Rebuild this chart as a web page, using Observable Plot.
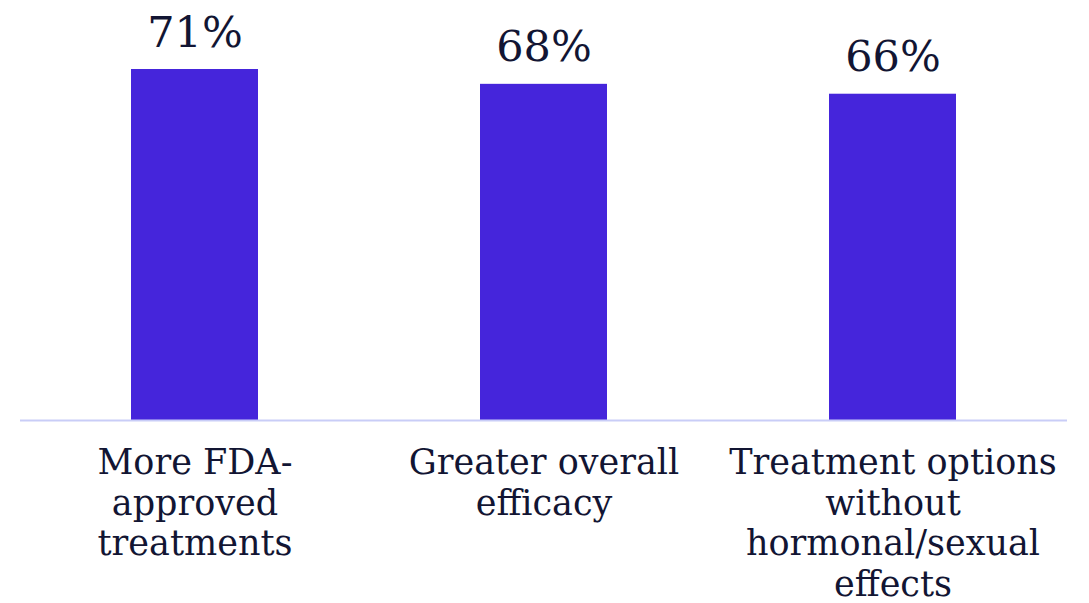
<!DOCTYPE html>
<html>
<head>
<meta charset="utf-8">
<script src="https://cdn.jsdelivr.net/npm/d3@7"></script>
<script src="https://cdn.jsdelivr.net/npm/@observablehq/plot@0.6"></script>
<style>
  html, body { margin: 0; padding: 0; background: #fff; }
</style>
</head>
<body>
<div id="chart"></div>
<script>
const categories = [
  "More FDA-\napproved\ntreatments",
  "Greater overall\nefficacy",
  "Treatment options\nwithout\nhormonal/sexual\neffects"
];
const values = [71, 68, 66];
const valueLabels = ["71%", "68%", "66%"];

const data = categories.map((c, i) => ({category: c, value: values[i], label: valueLabels[i]}));

const chart = Plot.plot({
  width: 1089,
  height: 603,
  marginTop: 69,
  marginBottom: 183,
  marginLeft: 20,
  marginRight: 22,
  style: {fontFamily: "'DejaVu Serif', serif", color: "#121533", background: "#fff"},
  x: {domain: categories, paddingInner: 0.636, paddingOuter: 0.318, label: null},
  y: {domain: [0, 71], axis: null},
  marks: [
    Plot.barY(data, {x: "category", y: "value", fill: "#4525db"}),
    Plot.ruleY([0], {stroke: "#c9cdf7", strokeWidth: 2}),
    Plot.text(data, {x: "category", y: "value", text: "label", lineAnchor: "bottom", dy: -23, fontSize: 43, fill: "#121533"}),
    Plot.axisX({tickSize: 0, tickPadding: 24, fontSize: 35, lineHeight: 1.17, fill: "#121533", label: null})
  ]
});
document.getElementById("chart").appendChild(chart);
</script>
</body>
</html>
